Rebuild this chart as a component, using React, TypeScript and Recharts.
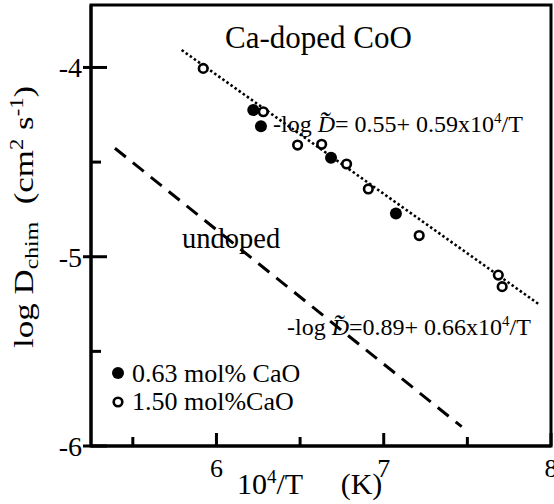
import { ComposedChart, Scatter, XAxis, YAxis, Customized } from "recharts";

const SERIF = "'Liberation Serif', 'Times New Roman', serif";
const NB = "\u00a0";

// axis ticks (major ones get labels)
const xTicks = [5.5, 6, 6.5, 7, 7.5, 8];
const yTicks = [-6, -5.5, -5, -4.5, -4];
const xDomain = [5.25, 8];
const yDomain = [-6, -3.67];

// 0.63 mol% CaO (filled)
const caO063 = [
    { x: 6.22, y: -4.225 },
    { x: 6.266, y: -4.31 },
    { x: 6.685, y: -4.477 },
    { x: 7.073, y: -4.771 },
];

// 1.50 mol% CaO (open)
const caO150 = [
    { x: 5.921, y: -4.005 },
    { x: 6.28, y: -4.234 },
    { x: 6.485, y: -4.41 },
    { x: 6.629, y: -4.406 },
    { x: 6.778, y: -4.51 },
    { x: 6.908, y: -4.642 },
    { x: 7.212, y: -4.888 },
    { x: 7.685, y: -5.097 },
    { x: 7.708, y: -5.158 },
];

// fit lines
const dopedFit = [
    { x: 5.792, y: -3.908 },
    { x: 7.934, y: -5.255 },
];
const undopedFit = [
    { x: 5.393, y: -4.427 },
    { x: 7.466, y: -5.898 },
];

const XTick = ({ x, y, payload }: any) => {
    const v = payload.value;
    const major = Number.isInteger(v);
    return (
        <g>
            <line x1={x} x2={x} y1={y} y2={y - (major ? 13 : 9)} stroke="#000" strokeWidth={3} />
            {major && (
                <text x={x} y={y + 31} textAnchor="middle" fontSize={26} fontFamily={SERIF} fill="#000">
                    {v}
                </text>
            )}
        </g>
    );
};

const YTick = ({ x, y, payload }: any) => {
    const v = payload.value;
    const major = Number.isInteger(v);
    return (
        <g>
            <line x1={major ? x - 8 : x} x2={x + (major ? 16 : 10)} y1={y} y2={y} stroke="#000" strokeWidth={3} />
            {major && (
                <text x={x - 9} y={y + 10} textAnchor="end" fontSize={28} fontFamily={SERIF} fill="#000">
                    {v}
                </text>
            )}
        </g>
    );
};

const FilledDot = ({ cx, cy }: any) => <circle cx={cx} cy={cy} r={6} fill="#000" />;
const OpenDot = ({ cx, cy }: any) => <circle cx={cx} cy={cy} r={4.3} fill="#fff" stroke="#000" strokeWidth={2.6} />;
const NoDot = () => <g />;

// -log D~ = a + b x10^4/T
const Formula = ({ x, y, a, b, gap }: any) => (
    <text x={x} y={y} fontSize={24}>
        -log <tspan fontStyle="italic">D</tspan>
        <tspan dx={-16} dy={0} fontSize={30} fontStyle="italic">˜</tspan>
        <tspan dx={6} dy={0}>={gap}{a}+ {b}x10</tspan>
        <tspan dy={-9} fontSize={15}>4</tspan>
        <tspan dy={9}>/T</tspan>
    </text>
);

const Annotations = () => (
    <g fontFamily={SERIF} fill="#000">
        {/* frame */}
        <rect x={91} y={5} width={460} height={441} fill="none" stroke="#000" strokeWidth={3} />

        <text x={225} y={48} fontSize={31}>Ca-doped CoO</text>

        <Formula x={273} y={132} a="0.55" b="0.59" gap=" " />

        <rect x={180} y={222} width={104} height={38} fill="#fff" />
        <text x={182} y={248} fontSize={28.5}>undoped</text>

        <rect x={285} y={312} width={252} height={30} fill="#fff" />
        <Formula x={287} y={335} a="0.89" b="0.66" gap="" />

        {/* legend */}
        <circle cx={118} cy={373} r={6} fill="#000" />
        <text x={132} y={382} fontSize={26}>0.63 mol% CaO</text>
        <circle cx={118} cy={402} r={4.3} fill="#fff" stroke="#000" strokeWidth={2.6} />
        <text x={132} y={410} fontSize={26}>1.50 mol%CaO</text>

        {/* axis titles */}
        <text x={237} y={494} fontSize={30}>
            10<tspan dy={-11} fontSize={19}>4</tspan>
            <tspan dy={11}>{`/T${NB}${NB}${NB}${NB}${NB}(K)`}</tspan>
        </text>
        <text transform="translate(33,217) rotate(-90) scale(1.25,1)" textAnchor="middle" fontSize={28}>
            log D<tspan dy={5} fontSize={19}>chim</tspan>
            <tspan dy={-5}>{`${NB}${NB}(cm`}</tspan>
            <tspan dy={-10} fontSize={18}>2</tspan>
            <tspan dy={10}> s</tspan>
            <tspan dy={-10} fontSize={18}>-1</tspan>
            <tspan dy={10}>)</tspan>
        </text>
    </g>
);

export default function App() {
    return (
        <div style={{ position: "absolute", left: 0, top: 0, background: "#fff" }}>
            <ComposedChart width={554} height={504} margin={{ top: 5, right: 3, bottom: 0, left: 0 }}>
                <XAxis
                    xAxisId="b"
                    type="number"
                    dataKey="x"
                    domain={xDomain}
                    ticks={xTicks}
                    interval={0}
                    height={58}
                    tickSize={0}
                    tickMargin={0}
                    tick={<XTick />}
                    axisLine={{ stroke: "#000", strokeWidth: 3 }}
                    allowDataOverflow
                />
                <YAxis
                    yAxisId="l"
                    type="number"
                    dataKey="y"
                    domain={yDomain}
                    ticks={yTicks}
                    interval={0}
                    width={91}
                    tickSize={0}
                    tickMargin={0}
                    tick={<YTick />}
                    axisLine={{ stroke: "#000", strokeWidth: 3 }}
                    allowDataOverflow
                />

                <Scatter
                    xAxisId="b"
                    yAxisId="l"
                    data={undopedFit}
                    fill="#000"
                    line={{ stroke: "#000", strokeWidth: 3, strokeDasharray: "14 9" }}
                    shape={<NoDot />}
                    isAnimationActive={false}
                />
                <Scatter
                    xAxisId="b"
                    yAxisId="l"
                    data={dopedFit}
                    fill="#000"
                    line={{ stroke: "#000", strokeWidth: 2.6, strokeDasharray: "2.5 2.5" }}
                    shape={<NoDot />}
                    isAnimationActive={false}
                />
                <Customized component={<Annotations />} />
                <Scatter xAxisId="b" yAxisId="l" name="0.63 mol% CaO" data={caO063} shape={<FilledDot />} isAnimationActive={false} />
                <Scatter xAxisId="b" yAxisId="l" name="1.50 mol%CaO" data={caO150} shape={<OpenDot />} isAnimationActive={false} />
            </ComposedChart>
        </div>
    );
}
